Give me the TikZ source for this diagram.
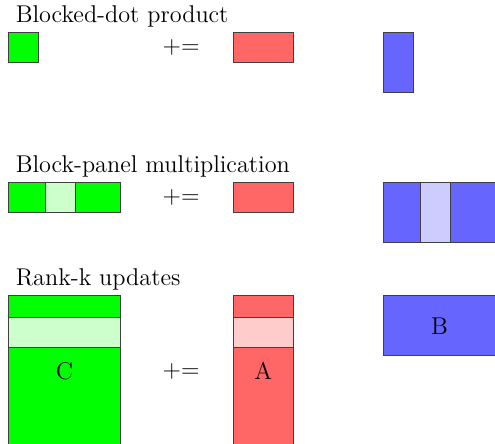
\documentclass[tikz,border=0pt]{standalone}
\begin{document}
\begin{tikzpicture}[x=0.5cm,y=-0.5cm,
    blk/.style={draw=black!75,line width=0.5pt},
    matC/.style={blk,fill=green},
    matCl/.style={blk,fill=green!20},
    matA/.style={blk,fill=red!60},
    matAl/.style={blk,fill=red!20},
    matB/.style={blk,fill=blue!60},
    matBl/.style={blk,fill=blue!20},
    ttl/.style={anchor=base west,font=\fontsize{11.5}{14}\selectfont},
    lbl/.style={font=\fontsize{11.5}{14}\selectfont}]
  \useasboundingbox (-0.277,-1.09) rectangle (16.223,13.71);
  % Blocked-dot product
  \node[ttl] (t1) at (0,-0.33) {Blocked-dot product};
  \draw[matC] (0,0) rectangle (1,1);
  \node[lbl] (pe1) at (5.76,0.5) {+=};
  \draw[matA] (7.5,0) rectangle (9.5,1);
  \draw[matB] (12.5,0) rectangle (13.5,2);
  % Block-panel multiplication
  \node[ttl] (t2) at (0,4.67) {Block-panel multiplication};
  \draw[matC] (0,5) rectangle (3.75,6);
  \draw[matCl] (1.25,5) rectangle (2.25,6);
  \node[lbl] (pe2) at (5.76,5.5) {+=};
  \draw[matA] (7.5,5) rectangle (9.5,6);
  \draw[matB] (12.5,5) rectangle (16.25,7);
  \draw[matBl] (13.75,5) rectangle (14.75,7);
  % Rank-k updates
  \node[ttl] (t3) at (0,8.42) {Rank-k updates};
  \draw[matC] (0,8.75) rectangle (3.75,13.75);
  \draw[matCl] (0,9.5) rectangle (3.75,10.5);
  \node[lbl] (C) at (1.875,11.28) {C};
  \node[lbl] (pe3) at (5.76,11.28) {+=};
  \draw[matA] (7.5,8.75) rectangle (9.5,13.75);
  \draw[matAl] (7.5,9.5) rectangle (9.5,10.5);
  \node[lbl] (A) at (8.5,11.28) {A};
  \draw[matB] (12.5,8.75) rectangle (16.25,10.75);
  \node[lbl] (B) at (14.375,9.8) {B};
\end{tikzpicture}
\end{document}
